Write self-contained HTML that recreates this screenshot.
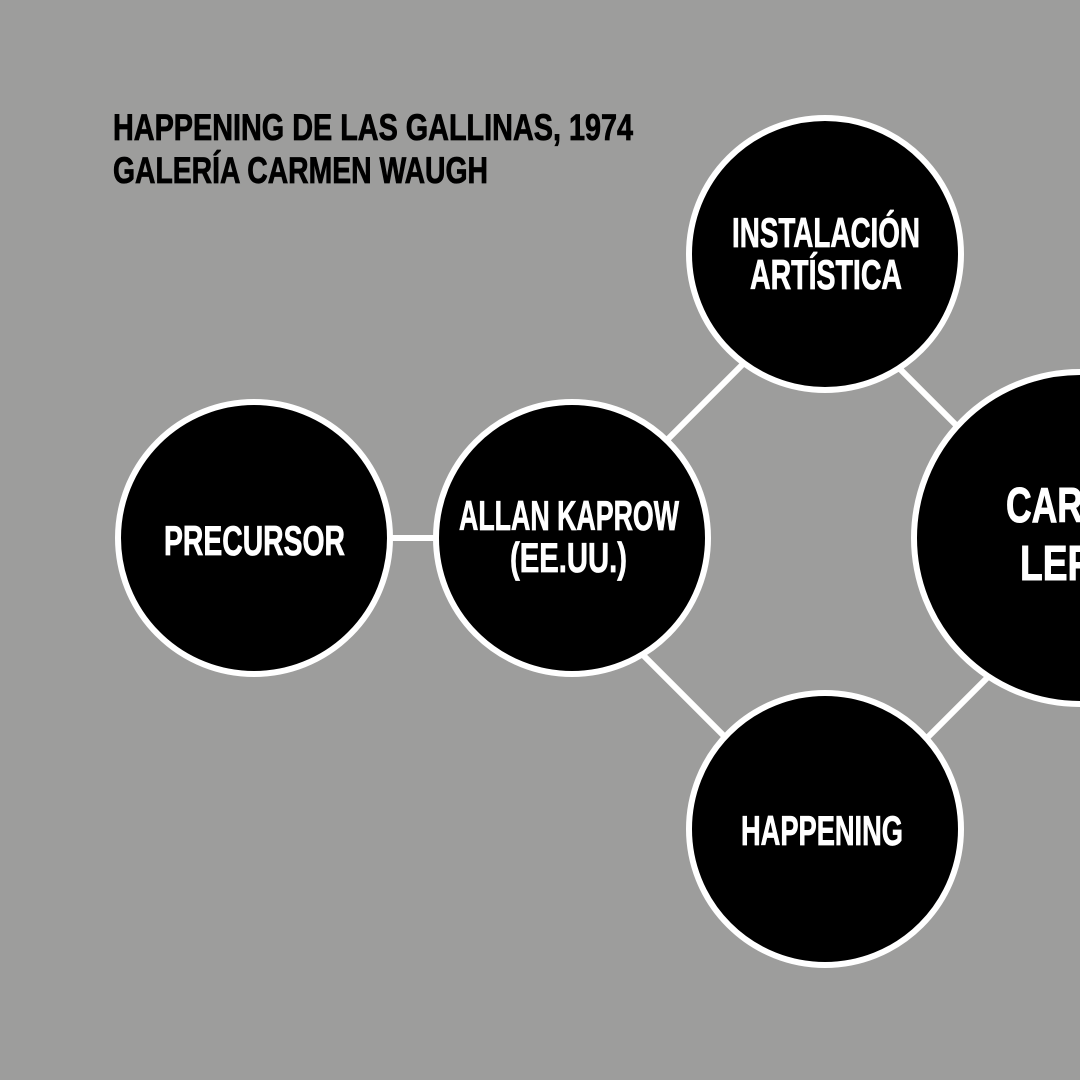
<!DOCTYPE html>
<html><head><meta charset="utf-8"><style>
html,body{margin:0;padding:0;background:#9d9d9c;}
svg{display:block}
text{font-family:"Liberation Sans Narrow","Liberation Sans",sans-serif;font-weight:bold;}
</style></head><body>
<svg width="1080" height="1080" viewBox="0 0 1080 1080">
<rect width="1080" height="1080" fill="#9d9d9c"/>
<g stroke="#fff" stroke-width="6">
<line x1="254" y1="538" x2="572" y2="538"/>
<line x1="600" y1="507" x2="790" y2="317"/>
<line x1="860" y1="329" x2="1000" y2="469"/>
<line x1="600" y1="612" x2="770" y2="782"/>
<line x1="880" y1="785" x2="1030" y2="635"/>
</g>
<g fill="#000" stroke="#fff" stroke-width="6">
<circle cx="254" cy="538" r="136"/>
<circle cx="572" cy="538" r="136"/>
<circle cx="825" cy="254" r="136"/>
<circle cx="825" cy="829" r="136"/>
<circle cx="1080" cy="538" r="166"/>
</g>
<g fill="#000" stroke="#000" stroke-width="0.8" font-size="37">
<text x="113" y="140" textLength="520" lengthAdjust="spacingAndGlyphs">HAPPENING DE LAS GALLINAS, 1974</text>
<text x="113" y="183" textLength="375" lengthAdjust="spacingAndGlyphs">GALERÍA CARMEN WAUGH</text>
</g>
<g fill="#fff" stroke="#fff" stroke-width="0.8" font-size="42">
<text x="732" y="247" textLength="188" lengthAdjust="spacingAndGlyphs">INSTALACIÓN</text>
<text x="750" y="289" textLength="152" lengthAdjust="spacingAndGlyphs">ARTÍSTICA</text>
<text x="164" y="555" textLength="181" lengthAdjust="spacingAndGlyphs">PRECURSOR</text>
<text x="459" y="530" textLength="220" lengthAdjust="spacingAndGlyphs">ALLAN KAPROW</text>
<text x="510" y="572" textLength="117" lengthAdjust="spacingAndGlyphs">(EE.UU.)</text>
<text x="741" y="845" textLength="162" lengthAdjust="spacingAndGlyphs">HAPPENING</text>
</g>
<g fill="#fff" stroke="#fff" stroke-width="1" font-size="49">
<text x="1006" y="522" textLength="150" lengthAdjust="spacingAndGlyphs">CARLOS</text>
<text x="1020" y="580" textLength="122" lengthAdjust="spacingAndGlyphs">LEPPE</text>
</g>
</svg>
</body></html>
